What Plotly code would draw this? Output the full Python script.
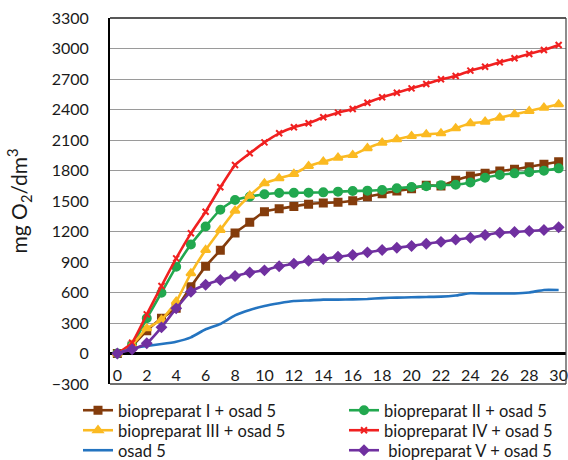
import plotly.graph_objects as go

# Time axis (days) and oxygen demand series, mg O2/dm3
days = list(range(0, 31))

bio_I = [0, 75, 225, 346, 444, 657, 857, 1015, 1185, 1290, 1395, 1425, 1447, 1469, 1480, 1487,
         1503, 1542, 1572, 1598, 1620, 1655, 1648, 1705, 1746, 1772, 1795, 1812, 1837, 1861, 1887]
bio_II = [0, 80, 346, 598, 854, 1072, 1250, 1415, 1510, 1542, 1566, 1578, 1580, 1582, 1585, 1592,
          1598, 1602, 1608, 1625, 1638, 1645, 1656, 1660, 1682, 1729, 1756, 1772, 1782, 1798, 1821]
bio_III = [0, 85, 248, 330, 510, 789, 1018, 1215, 1405, 1552, 1674, 1723, 1766, 1844, 1887, 1926,
           1952, 2020, 2073, 2107, 2139, 2156, 2166, 2215, 2264, 2280, 2320, 2353, 2385, 2418, 2451]
bio_IV = [0, 106, 385, 664, 936, 1182, 1395, 1635, 1854, 1969, 2077, 2166, 2225, 2264, 2323, 2369,
          2405, 2467, 2520, 2565, 2608, 2651, 2697, 2729, 2782, 2821, 2864, 2904, 2946, 2985, 3034]
osad = [0, 50, 74, 93, 116, 159, 238, 290, 375, 428, 468, 495, 516, 522, 530, 530,
        532, 536, 545, 550, 553, 556, 559, 570, 592, 590, 590, 590, 600, 625, 625]
bio_V = [0, 41, 100, 257, 444, 608, 677, 723, 762, 797, 818, 858, 884, 913, 929, 952,
         969, 995, 1018, 1040, 1058, 1080, 1098, 1120, 1138, 1166, 1188, 1195, 1205, 1215, 1241]

x_ticks = list(range(0, 31, 2))
y_ticks = list(range(-300, 3301, 300))
Y_MIN, Y_MAX = -300, 3300

FONT = "Lato"
TEXT = "#1a1a1a"

W, H = 568, 460
M_L, M_R, M_T, M_B = 110, 2, 18, 76
PLOT_W = W - M_L - M_R
PLOT_H = H - M_T - M_B

# name, values, colour, marker symbol, marker size, legend slot (column, row)
series = [
    ("biopreparat I + osad 5", bio_I, "#843C0C", "square", 7, (0, 0)),
    ("biopreparat II + osad 5", bio_II, "#22A84F", "circle", 8, (1, 0)),
    ("biopreparat III + osad 5", bio_III, "#FBBA22", "triangle-up", 8, (0, 1)),
    ("biopreparat IV + osad 5", bio_IV, "#F02020", "x-thin", 6, (1, 1)),
    ("osad 5", osad, "#2474C0", None, 0, (0, 2)),
    (" biopreparat V + osad 5", bio_V, "#7030A0", "diamond", 7, (1, 2)),
]

# legend entry placement in pixels (left of symbol, top of entry)
col_x = [78, 344]
row_top = [393, 413, 433]

fig = go.Figure()
legends = {}
for i, (name, ys, color, symbol, size, (col, row)) in enumerate(series):
    leg_id = "legend" if i == 0 else f"legend{i + 1}"
    mode = "lines+markers" if symbol else "lines"
    marker = dict(symbol=symbol, size=size, color=color,
                  line=dict(color=color, width=2)) if symbol else None
    fig.add_trace(go.Scatter(
        x=days, y=ys, name=name, mode=mode, legend=leg_id,
        line=dict(color=color, width=2.6, shape="spline", smoothing=0.4),
        marker=marker,
    ))
    legends[leg_id] = dict(
        orientation="v", xref="paper", yref="paper",
        xanchor="left", yanchor="top",
        x=(col_x[col] - M_L) / PLOT_W,
        y=(M_T + PLOT_H - row_top[row]) / PLOT_H,
        font=dict(family=FONT, size=16.5, color=TEXT),
        bgcolor="rgba(0,0,0,0)",
    )

fig.update_layout(
    width=W, height=H,
    margin=dict(l=M_L, r=M_R, t=M_T, b=M_B, autoexpand=False),
    paper_bgcolor="white", plot_bgcolor="white",
    font=dict(family=FONT, size=16, color=TEXT),
    showlegend=True,
    xaxis=dict(
        range=[-0.5, 30.5], tickmode="array", tickvals=x_ticks,
        ticktext=[str(v) for v in x_ticks],
        anchor="free", position=(0 - Y_MIN) / (Y_MAX - Y_MIN),
        ticks="", ticklabelstandoff=10, automargin=False,
        showgrid=False, zeroline=False, showline=False,
        tickfont=dict(family=FONT, size=16, color=TEXT),
    ),
    yaxis=dict(
        range=[Y_MIN, Y_MAX], tickmode="array", tickvals=y_ticks,
        showgrid=True, gridcolor="#9a9a9a", gridwidth=1,
        zeroline=True, zerolinecolor="black", zerolinewidth=2.5,
        showline=True, linecolor="black", linewidth=2,
        ticks="", ticklabelstandoff=16, automargin=False,
        tickfont=dict(family=FONT, size=16, color=TEXT),
        title=dict(text="mg O<sub>2</sub>/dm<sup>3</sup>",
                   font=dict(family=FONT, size=21, color=TEXT), standoff=18),
    ),
    **legends,
)

# frame of the plot area: top, bottom and right edges
frame = dict(type="line", xref="paper", yref="paper", layer="above")
fig.add_shape(frame, x0=0, x1=1, y0=1, y1=1, line=dict(color="#202020", width=1.5))
fig.add_shape(frame, x0=0, x1=1, y0=0, y1=0, line=dict(color="#404040", width=1.5))
fig.add_shape(frame, x0=1, x1=1, y0=0, y1=1, line=dict(color="#404040", width=1.2))

fig.write_html("out.html")
